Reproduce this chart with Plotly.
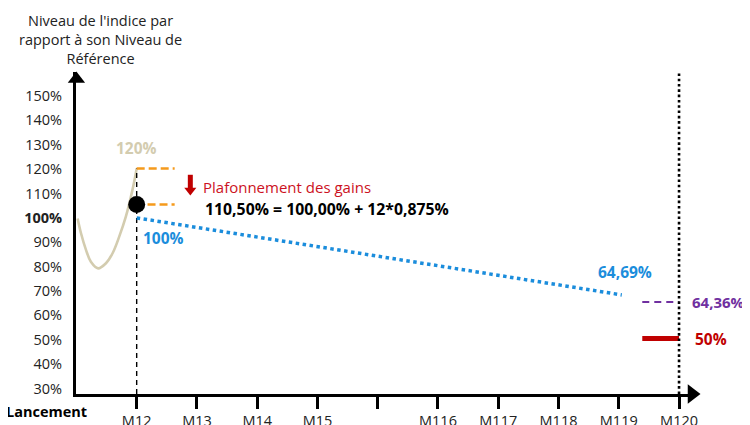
import plotly.graph_objects as go

# ---------------- data ----------------
month_pos = [1, 2, 3, 4, 5, 6, 7, 8, 9, 10]
month_labels = ["M12", "M13", "M14", "M15", "", "M116", "M117", "M118", "M119", "M120"]
y_tick_vals = [30, 40, 50, 60, 70, 80, 90, 100, 110, 120, 130, 140, 150]
y_tick_text = ["30%", "40%", "50%", "60%", "70%", "80%", "90%", "<b>100%</b>",
               "110%", "120%", "130%", "140%", "150%"]

# index path until month 12
curve_x = [0.02, 0.076, 0.16, 0.24, 0.36, 0.49, 0.60, 0.71, 0.82, 0.93, 1.0]
curve_y = [99.8, 93.7, 86.8, 82.0, 79.3, 81.4, 85.5, 92.3, 100.5, 111.5, 120.3]

# projected level (blue dotted)
proj_x = [1, 9.05]
proj_y = [100.0, 68.4]

# capped level (black dot)
cap_x = [1]
cap_y = [105.5]

# orange dashes (120% and capped level)
orange_top_x = [1.0, 1.63]
orange_top_y = [120.3, 120.3]
orange_low_x = [1.18, 1.63]
orange_low_y = [105.5, 105.5]

# final levels
final_x = [9.39, 10.0]
purple_y = [65.5, 65.5]
red_y = [50.5, 50.5]

# red arrow (shaft and head levels)
arrow_x = [1.89, 1.89]
arrow_shaft_y = [117.7, 111.6]
arrow_head_y = [111.3]

# label texts
lbl_120 = "120%"
lbl_100 = "100%"
lbl_6469 = "64,69%"
lbl_6436 = "64,36%"
lbl_50 = "50%"
lbl_cap = "Plafonnement des gains"
lbl_formula = "110,50% = 100,00% + 12*0,875%"
y_title = "Niveau de l'indice par<br>rapport à son Niveau de<br>Référence"
x_origin_label = "Lancement"

FONT = "Open Sans"
BEIGE = "#D3CCAF"
BLUE = "#1B8DDC"
ORANGE = "#F59A1C"
PURPLE = "#7030A0"
RED = "#C00000"

X_RANGE = [-0.007, 10.215]
Y_RANGE = [27.74, 159.87]

fig = go.Figure()

fig.add_trace(go.Scatter(x=curve_x, y=curve_y, mode="lines",
                         line=dict(color=BEIGE, width=2.6, shape="spline", smoothing=1.0),
                         hoverinfo="skip"))
# vertical dashed line at M12
fig.add_trace(go.Scatter(x=[cap_x[0], cap_x[0]], y=[Y_RANGE[0], curve_y[-1]], mode="lines",
                         line=dict(color="black", width=1.4, dash="5px,4px"), hoverinfo="skip"))
fig.add_trace(go.Scatter(x=proj_x, y=proj_y, mode="lines",
                         line=dict(color=BLUE, width=3.5, dash="dot"), hoverinfo="skip"))
fig.add_trace(go.Scatter(x=orange_top_x, y=orange_top_y, mode="lines",
                         line=dict(color=ORANGE, width=2.5, dash="8px,4px"), hoverinfo="skip"))
fig.add_trace(go.Scatter(x=orange_low_x, y=orange_low_y, mode="lines",
                         line=dict(color=ORANGE, width=2.5, dash="8px,4px"), hoverinfo="skip"))
fig.add_trace(go.Scatter(x=cap_x, y=cap_y, mode="markers",
                         marker=dict(color="black", size=17), hoverinfo="skip"))
fig.add_trace(go.Scatter(x=final_x, y=purple_y, mode="lines",
                         line=dict(color=PURPLE, width=2, dash="7px,5px"), hoverinfo="skip"))
fig.add_trace(go.Scatter(x=final_x, y=red_y, mode="lines",
                         line=dict(color=RED, width=5), hoverinfo="skip"))
# red arrow
fig.add_trace(go.Scatter(x=arrow_x, y=arrow_shaft_y, mode="lines",
                         line=dict(color=RED, width=5), hoverinfo="skip"))
fig.add_trace(go.Scatter(x=arrow_x[:1], y=arrow_head_y, mode="markers",
                         marker=dict(symbol="triangle-down", color=RED, size=10.5), hoverinfo="skip"))
# vertical dotted line at M120
fig.add_trace(go.Scatter(x=[month_pos[-1], month_pos[-1]], y=Y_RANGE, mode="lines",
                         line=dict(color="black", width=2.6, dash="2.6px,2.7px"), hoverinfo="skip"))
# axis arrowheads
fig.add_trace(go.Scatter(x=[0], y=[157.0], mode="markers", cliponaxis=False,
                         marker=dict(symbol="triangle-up", color="black", size=15), hoverinfo="skip"))
fig.add_trace(go.Scatter(x=[X_RANGE[1]], y=[Y_RANGE[0]], mode="markers", cliponaxis=False,
                         marker=dict(symbol="triangle-right", color="black", size=17), hoverinfo="skip"))

ann = []
ann.append(dict(x=cap_x[0], y=128.5, xref="x", yref="y", text="<b>%s</b>" % lbl_120,
                showarrow=False, font=dict(family=FONT, size=15.5, color=BEIGE)))
ann.append(dict(x=1.07, y=91.8, xref="x", yref="y", text="<b>%s</b>" % lbl_100, xanchor="left",
                showarrow=False, font=dict(family=FONT, size=15.5, color=BLUE)))
ann.append(dict(x=9.1, y=77.8, xref="x", yref="y", text="<b>%s</b>" % lbl_6469,
                showarrow=False, font=dict(family=FONT, size=15.5, color=BLUE)))
ann.append(dict(x=0.9968, y=65.5, xref="paper", yref="y", text="<b>%s</b>" % lbl_6436,
                xanchor="left", yanchor="middle",
                showarrow=False, font=dict(family=FONT, size=15, color=PURPLE)))
ann.append(dict(x=1.0016, y=50.3, xref="paper", yref="y", text="<b>%s</b>" % lbl_50,
                xanchor="left", yanchor="middle",
                showarrow=False, font=dict(family=FONT, size=15.5, color=RED)))
ann.append(dict(x=2.07, y=112.7, xref="x", yref="y", text=lbl_cap, xanchor="left",
                showarrow=False, font=dict(family=FONT, size=15, color="#CC1122")))
ann.append(dict(x=2.1, y=103.7, xref="x", yref="y", text="<b>%s</b>" % lbl_formula, xanchor="left",
                showarrow=False, font=dict(family=FONT, size=15.8, color="black")))
ann.append(dict(x=0.039, y=1.101, xref="paper", yref="paper", text=y_title,
                xanchor="center", yanchor="middle",
                showarrow=False, align="center", font=dict(family=FONT, size=14.5, color="#222")))
ann.append(dict(x=-0.0487, y=-0.0559, xref="paper", yref="paper", text="<b>%s</b>" % x_origin_label,
                xanchor="center", yanchor="middle",
                showarrow=False, font=dict(family=FONT, size=14.5, color="black")))

fig.update_layout(
    width=742, height=417,
    margin=dict(l=68, r=58, t=64, b=31, autoexpand=False),
    plot_bgcolor="white", paper_bgcolor="white",
    showlegend=False,
    annotations=ann,
    font=dict(family=FONT, size=14, color="#222"),
    xaxis=dict(range=X_RANGE, showgrid=False, zeroline=False, showline=True, linecolor="black",
               linewidth=3, tickvals=month_pos, ticktext=month_labels, ticks="outside",
               ticklen=12, tickwidth=3, tickcolor="black", automargin=False,
               tickfont=dict(family=FONT, size=14.5, color="#222")),
    yaxis=dict(range=Y_RANGE, showgrid=False, zeroline=False, showline=True, linecolor="black",
               linewidth=3, tickvals=y_tick_vals, ticktext=y_tick_text, ticks="",
               automargin=False,
               ticklabelstandoff=8, tickfont=dict(family=FONT, size=14.5, color="#222")),
)

fig.write_html("out.html")
